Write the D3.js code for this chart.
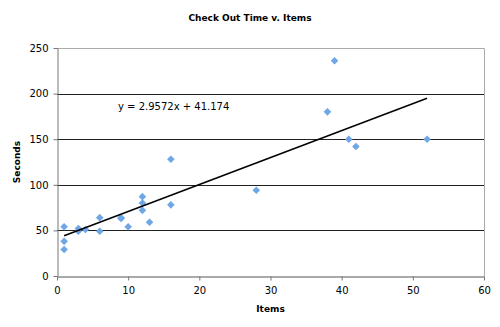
<!DOCTYPE html>
<html><head><meta charset="utf-8">
<script src="https://cdn.jsdelivr.net/npm/d3@7"></script>
<style>body{margin:0;background:#fff}svg{display:block}</style>
</head><body>
<svg id="c" width="500" height="327"></svg>
<script>
const items   = [1,1,1,3,3,4,6,6,9,9,10,12,12,12,13,16,16,28,38,39,41,42,52];
const seconds = [54,38,29,52,49,51,64,49,64,63,54,87,80,72,59,128,78,94,180,236,150,142,150];
const xTicks = [0,10,20,30,40,50,60];
const yTicks = [0,50,100,150,200,250];
const slope = 2.9572, intercept = 41.174;
const title = "Check Out Time v. Items";
const xLabel = "Items", yLabel = "Seconds";
const eqLabel = "y = 2.9572x + 41.174";

const svg = d3.select("#c");
const L = 57, R = 484, T = 48, B = 276;
const x = d3.scaleLinear().domain([0,60]).range([L,R]);
const y = d3.scaleLinear().domain([0,250]).range([B,T]);
const font = "DejaVu Sans, Verdana, sans-serif";

svg.append("g").selectAll("line").data(yTicks.filter(d=>d>0 && d<250)).join("line")
  .attr("x1",L).attr("x2",R).attr("y1",d=>Math.round(y(d))+0.5).attr("y2",d=>Math.round(y(d))+0.5)
  .attr("stroke","#222").attr("stroke-width",1);
svg.append("path").attr("d",`M${L},${T+0.5}H${R+0.5}V${B}`).attr("fill","none").attr("stroke","#aaa");

const xa = svg.append("g").attr("transform",`translate(0,${B+0.5})`)
  .call(d3.axisBottom(x).tickValues(xTicks).tickSize(4).tickSizeOuter(0));
const ya = svg.append("g").attr("transform",`translate(${L+0.5},0)`)
  .call(d3.axisLeft(y).tickValues(yTicks).tickSize(4).tickSizeOuter(0));
[xa,ya].forEach(a=>{
  a.selectAll("path,line").attr("stroke","#777");
  a.selectAll("text").attr("font-family",font).attr("font-size",10).attr("fill","#000");
});
xa.select(".domain").attr("stroke","#555");
xa.selectAll("text").attr("dy","1.0em");
ya.selectAll("text").attr("dx","-0.2em");

const diamond = "M0,-3.8L3.8,0L0,3.8L-3.8,0Z";
svg.append("g").selectAll("path").data(items.map((d,i)=>[d,seconds[i]])).join("path")
  .attr("d",diamond)
  .attr("transform",d=>`translate(${x(d[0])},${y(d[1])})`)
  .attr("fill","#6fa6e6");

const xe = d3.extent(items);
svg.append("line").attr("x1",x(xe[0])).attr("y1",y(slope*xe[0]+intercept))
  .attr("x2",x(xe[1])).attr("y2",y(slope*xe[1]+intercept))
  .attr("stroke","#000").attr("stroke-width",1.5);

svg.append("text").attr("x",118).attr("y",110).attr("font-family",font).attr("font-size",10).text(eqLabel);
svg.append("text").attr("x",250).attr("y",21).attr("text-anchor","middle").attr("font-family",font)
  .attr("font-size",9).attr("font-weight","bold").text(title);
svg.append("text").attr("x",(L+R)/2).attr("y",312).attr("text-anchor","middle").attr("font-family",font)
  .attr("font-size",9).attr("font-weight","bold").text(xLabel);
svg.append("text").attr("transform",`translate(20,${(T+B)/2}) rotate(-90)`).attr("text-anchor","middle")
  .attr("font-family",font).attr("font-size",9).attr("font-weight","bold").text(yLabel);
</script>
</body></html>
